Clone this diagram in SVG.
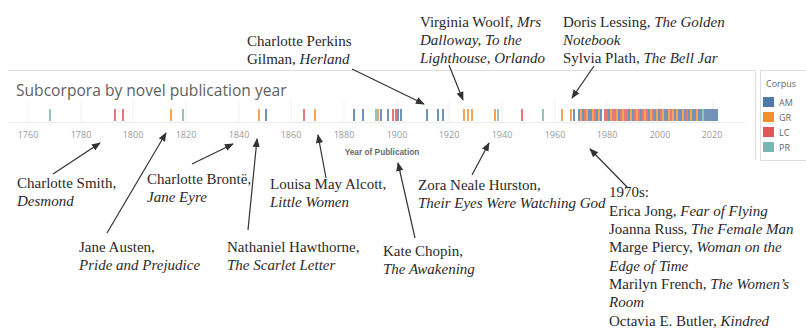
<svg xmlns="http://www.w3.org/2000/svg" width="806" height="330" viewBox="0 0 806 330">
<style>
.t{font-family:"Liberation Serif","Times New Roman",serif;font-size:15px;fill:#2a2a2a}
.i{font-style:italic}
.ax{font-family:"Open Sans","Liberation Sans",Arial,sans-serif;font-size:9px;fill:#9a9a9a;text-anchor:middle}
.ttl{font-family:"Open Sans","Liberation Sans",Arial,sans-serif;font-size:15.6px;fill:#5f5f5f}
.axt{font-family:"Liberation Sans",Arial,sans-serif;font-size:8.3px;font-weight:bold;fill:#6a6a6a;text-anchor:middle}
.lg{font-family:"Open Sans","Liberation Sans",Arial,sans-serif;font-size:9px;fill:#666}
.frame{fill:none;stroke:#dedede;stroke-width:1}
.grid{stroke:#f1f1f1;stroke-width:1}
.m{fill:none;stroke-width:1.6}
.am{stroke:#4e79a7}.gr{stroke:#f28e2b}.lc{stroke:#e15759}.pr{stroke:#76b7b2}
.arr{stroke:#333;stroke-width:1.2;fill:none;marker-end:url(#ah)}
</style>
<defs>
<marker id="ah" viewBox="0 0 10 10" refX="9" refY="5" markerWidth="9" markerHeight="9" markerUnits="userSpaceOnUse" orient="auto">
<path d="M0,1 L10,5 L0,9 z" fill="#333"/>
</marker>
</defs>
<rect width="806" height="330" fill="#fff"/>

<g id="chart">
<path class="frame" d="M8,70.5 H755.5 V160"/>
<path class="grid" d="M28,100V122M81,100V122M133,100V122M186,100V122M239,100V122M291,100V122M344,100V122M397,100V122M449,100V122M502,100V122M555,100V122M607,100V122M660,100V122M713,100V122"/>
<path d="M8,122.5H745" stroke="#ececec" stroke-width="1"/>
<text class="ttl" x="16" y="96">Subcorpora by novel publication year</text>
<g id="marks">
<path class="m am" d="M266,109v12M354,109v12M363,109v12M381,109v12M388,109v12M398,109v12M401,109v12M427,109v12M438,109v12M443,109v12M574,109v12M579,109v12M583,109v12M589,109v12M591,109v12M597,109v12M601,109v12M609,109v12M619,109v12M629,109v12M633,109v12M641,109v12M649,109v12M655,109v12M659,109v12M665,109v12M667,109v12M675,109v12M679,109v12M681,109v12M685,109v12M689,109v12M693,109v12M695,109v12M699,109v12M701,109v12M705,109v12M707,109v12M709,109v12M711,109v12M713,109v12M715,109v12M717,109v12"/>
<path class="m gr" d="M171,109v12M259,109v12M315,109v12M378,109v12M464,109v12M468,109v12M472,109v12M495,109v12M562,109v12M571,109v12M581,109v12M587,109v12M593,109v12M599,109v12M611,109v12M617,109v12M623,109v12M631,109v12M637,109v12M645,109v12M651,109v12M657,109v12M663,109v12M669,109v12M673,109v12M677,109v12M683,109v12M691,109v12M697,109v12"/>
<path class="m lc" d="M115,109v12M123,109v12M304,109v12M393,109v12M396,109v12M522,109v12M585,109v12M595,109v12M605,109v12M607,109v12M613,109v12M615,109v12M621,109v12M625,109v12M627,109v12M635,109v12M639,109v12M643,109v12M647,109v12M653,109v12M661,109v12M671,109v12M687,109v12"/>
<path class="m pr" d="M50,109v12M183,109v12M376,109v12M498,109v12M543,109v12M703,109v12"/>
</g>
<g id="axis">
<text class="ax" x="28" y="138">1760</text>
<text class="ax" x="81" y="138">1780</text>
<text class="ax" x="133" y="138">1800</text>
<text class="ax" x="186" y="138">1820</text>
<text class="ax" x="239" y="138">1840</text>
<text class="ax" x="291" y="138">1860</text>
<text class="ax" x="344" y="138">1880</text>
<text class="ax" x="397" y="138">1900</text>
<text class="ax" x="449" y="138">1920</text>
<text class="ax" x="502" y="138">1940</text>
<text class="ax" x="555" y="138">1960</text>
<text class="ax" x="607" y="138">1980</text>
<text class="ax" x="660" y="138">2000</text>
<text class="ax" x="712" y="138">2020</text>
<text class="axt" x="382" y="155">Year of Publication</text>
</g>
</g>

<g id="legend">
<path class="frame" d="M806,70.5 H760.5 V160.5 H806"/>
<text class="lg" x="766" y="87">Corpus</text>
<rect x="763" y="97" width="11" height="10" fill="#4e79a7"/>
<rect x="763" y="112" width="11" height="10" fill="#f28e2b"/>
<rect x="763" y="127" width="11" height="10" fill="#e15759"/>
<rect x="763" y="142" width="11" height="10" fill="#76b7b2"/>
<text class="lg" x="779" y="106">AM</text>
<text class="lg" x="779" y="121">GR</text>
<text class="lg" x="779" y="136">LC</text>
<text class="lg" x="779" y="151">PR</text>
</g>

<g id="connectors">
<path class="arr" d="M53,174 L100,143"/>
<path class="arr" d="M107,233 L166,133"/>
<path class="arr" d="M192,164 L233,144"/>
<path class="arr" d="M248,230 L257,139"/>
<path class="arr" d="M326,178 L318,135"/>
<path class="arr" d="M415,238 L398,163"/>
<path class="arr" d="M472,175 L489,143"/>
<path class="arr" d="M628,188 L590,149"/>
<path class="arr" d="M352,69 L424,104"/>
<path class="arr" d="M449,65 L463,100"/>
<path class="arr" d="M594,66 L572,98"/>
</g>

<g id="n-perkins"><text class="t" x="247" y="46">Charlotte Perkins</text><text class="t" x="247" y="64">Gilman, <tspan class="i">Herland</tspan></text></g>
<g id="n-woolf"><text class="t" x="420" y="27">Virginia Woolf, <tspan class="i">Mrs</tspan></text><text class="t i" x="420" y="45">Dalloway, To the</text><text class="t i" x="420" y="63">Lighthouse, Orlando</text></g>
<g id="n-lessing"><text class="t" x="563" y="27">Doris Lessing, <tspan class="i">The Golden</tspan></text><text class="t i" x="563" y="45">Notebook</text><text class="t" x="563" y="63">Sylvia Plath, <tspan class="i">The Bell Jar</tspan></text></g>
<g id="n-smith"><text class="t" x="17" y="188">Charlotte Smith,</text><text class="t i" x="17" y="206">Desmond</text></g>
<g id="n-austen"><text class="t" x="79" y="252">Jane Austen,</text><text class="t i" x="79" y="270">Pride and Prejudice</text></g>
<g id="n-bronte"><text class="t" x="147" y="184">Charlotte Brontë,</text><text class="t i" x="147" y="202">Jane Eyre</text></g>
<g id="n-hawthorne"><text class="t" x="227" y="252">Nathaniel Hawthorne,</text><text class="t i" x="227" y="270">The Scarlet Letter</text></g>
<g id="n-alcott"><text class="t" x="270" y="189">Louisa May Alcott,</text><text class="t i" x="270" y="207">Little Women</text></g>
<g id="n-chopin"><text class="t" x="383" y="256">Kate Chopin,</text><text class="t i" x="383" y="274">The Awakening</text></g>
<g id="n-hurston"><text class="t" x="418" y="190">Zora Neale Hurston,</text><text class="t i" x="418" y="208">Their Eyes Were Watching God</text></g>
<g id="n-1970s">
<text class="t" x="609" y="197">1970s:</text>
<text class="t" x="609" y="215.5">Erica Jong, <tspan class="i">Fear of Flying</tspan></text>
<text class="t" x="609" y="234">Joanna Russ, <tspan class="i">The Female Man</tspan></text>
<text class="t" x="609" y="252">Marge Piercy, <tspan class="i">Woman on the</tspan></text>
<text class="t i" x="609" y="270.5">Edge of Time</text>
<text class="t" x="609" y="289">Marilyn French, <tspan class="i">The Women’s</tspan></text>
<text class="t i" x="609" y="307">Room</text>
<text class="t" x="609" y="325.5">Octavia E. Butler, <tspan class="i">Kindred</tspan></text>
</g>
</svg>
